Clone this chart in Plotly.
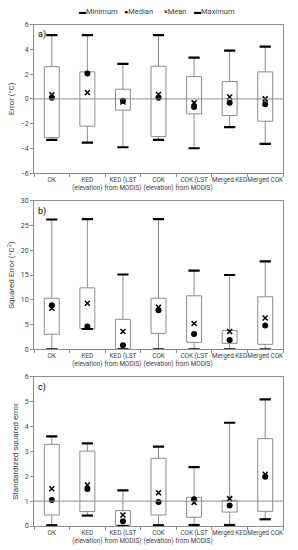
import plotly.graph_objects as go
from plotly.subplots import make_subplots
import numpy as np

categories = ["OK", "KED<br>(elevation)", "KED (LST<br>from MODIS)", "COK<br>(elevation)",
              "COK (LST<br>from MODIS)", "Merged KED", "Merged COK"]
legend_labels = ["Minimum", "Median", "Mean", "Maximum"]
legend_glyphs = ["▬", "●", "×", "▬"]

# Panel a) Error (°C)
a_min = [-3.3, -3.52, -3.9, -3.3, -3.98, -2.28, -3.63]
a_q1 = [-3.12, -2.2, -0.91, -3.04, -1.21, -1.34, -1.8]
a_med = [0.1, 2.04, -0.15, 0.1, -0.65, -0.32, -0.43]
a_mean = [0.33, 0.51, -0.25, 0.36, -0.32, 0.16, 0.0]
a_q3 = [2.6, 2.18, 0.78, 2.63, 1.8, 1.4, 2.18]
a_max = [5.15, 5.15, 2.82, 5.15, 3.33, 3.9, 4.22]

# Panel b) Squared error (°C²)
b_min = [0.0, 4.1, 0.0, 0.0, 0.0, 0.0, 0.0]
b_q1 = [3.03, 4.2, 0.0, 3.2, 1.4, 1.2, 1.0]
b_med = [8.9, 4.6, 0.8, 7.9, 3.1, 1.9, 4.8]
b_mean = [8.3, 9.3, 3.6, 8.5, 5.2, 3.6, 6.3]
b_q3 = [10.3, 12.4, 6.05, 10.3, 10.8, 3.8, 10.6]
b_max = [26.2, 26.3, 15.1, 26.3, 15.9, 15.0, 17.75]

# Panel c) Standardized squared error
c_min = [0.03, 0.42, 0.0, 0.03, 0.04, 0.04, 0.27]
c_q1 = [0.44, 0.58, 0.03, 0.44, 0.35, 0.56, 0.59]
c_med = [1.04, 1.49, 0.19, 0.96, 1.08, 0.82, 1.98]
c_mean = [1.5, 1.65, 0.44, 1.34, 0.95, 1.1, 2.08]
c_q3 = [3.28, 3.01, 0.62, 2.72, 1.15, 1.03, 3.51]
c_max = [3.6, 3.32, 1.43, 3.19, 2.37, 4.15, 5.09]

panels = [
    dict(mn=a_min, q1=a_q1, med=a_med, mean=a_mean, q3=a_q3, mx=a_max,
         rng=[-6, 6], dtick=2, title="Error (°C)", label="a)", ref=0),
    dict(mn=b_min, q1=b_q1, med=b_med, mean=b_mean, q3=b_q3, mx=b_max,
         rng=[0, 30], dtick=5, title="Squared Error (°C<sup>2</sup>)", label="b)", ref=None),
    dict(mn=c_min, q1=c_q1, med=c_med, mean=c_mean, q3=c_q3, mx=c_max,
         rng=[0, 6], dtick=1, title="Standardized squared error", label="c)", ref=1),
]

W, H = 298, 550
ML, MR = 34, 15
pix = [(24.5, 173.3), (200.7, 349.3), (376.7, 526.0)]

fig = make_subplots(rows=3, cols=1)

GRAY = "#8c8c8c"
TXT = "#404040"
FONT = "Liberation Sans Narrow, Roboto, Liberation Sans"

for i, p in enumerate(panels):
    r = i + 1
    mn, q1, med, mean, q3, mx = [np.array(p[k], dtype=float) for k in ["mn", "q1", "med", "mean", "q3", "mx"]]
    wx, wy = [], []
    for c, a0, a1, b0, b1 in zip(categories, mn, q1, q3, mx):
        wx += [c, c, None, c, c, None]
        wy += [a0, a1, None, b0, b1, None]
    fig.add_trace(go.Scatter(x=wx, y=wy, mode="lines", line=dict(color=GRAY, width=1),
                             showlegend=False, hoverinfo="skip"), row=r, col=1)
    fig.add_trace(go.Bar(x=categories, y=q3 - q1, base=q1, width=0.42,
                         marker=dict(color="white", line=dict(color=GRAY, width=1)),
                         showlegend=False), row=r, col=1)
    fig.add_trace(go.Scatter(x=categories, y=mn, mode="markers", name="Minimum",
                             marker=dict(symbol="line-ew", size=8, line=dict(color="black", width=2.2)),
                             showlegend=False), row=r, col=1)
    fig.add_trace(go.Scatter(x=categories, y=med, mode="markers", name="Median",
                             marker=dict(symbol="circle", size=6, color="black"),
                             showlegend=False), row=r, col=1)
    fig.add_trace(go.Scatter(x=categories, y=mean, mode="markers", name="Mean",
                             marker=dict(symbol="x-thin", size=5, line=dict(color="black", width=1.5)),
                             showlegend=False), row=r, col=1)
    fig.add_trace(go.Scatter(x=categories, y=mx, mode="markers", name="Maximum",
                             marker=dict(symbol="line-ew", size=8, line=dict(color="black", width=2.2)),
                             showlegend=False), row=r, col=1)

    top, bot = pix[i]
    dom = [1 - bot / H, 1 - top / H]
    fig.update_yaxes(row=r, col=1, domain=dom, range=p["rng"], dtick=p["dtick"], automargin=False,
                     showline=True, linecolor=GRAY, linewidth=1, mirror=True,
                     ticks="outside", ticklen=3, tickcolor=GRAY, showgrid=False, zeroline=False,
                     tickfont=dict(size=7, color=TXT, family=FONT),
                     title=dict(text=p["title"], font=dict(size=8, color=TXT, family=FONT), standoff=4))
    fig.update_xaxes(row=r, col=1, showline=True, linecolor=GRAY, linewidth=1, mirror=True, automargin=False,
                     ticks="outside", ticklen=3, tickcolor=GRAY, tickson="boundaries",
                     showgrid=False, tickfont=dict(size=6.4, color=TXT, family=FONT), tickangle=0)
    xref = "x" if r == 1 else f"x{r}"
    yref = "y" if r == 1 else f"y{r}"
    fig.add_annotation(text=p["label"], xref=f"{xref} domain", yref=f"{yref} domain",
                       x=0.01, y=0.98, xanchor="left", yanchor="top", showarrow=False,
                       font=dict(size=9, color="black", family=FONT))
    if p["ref"] is not None:
        fig.add_shape(type="line", xref=f"{xref} domain", yref=yref, x0=0, x1=1,
                      y0=p["ref"], y1=p["ref"], line=dict(color=GRAY, width=1), layer="above")

# legend row drawn as text items across the top
leg_x = [77, 122, 162, 192]
for lx, g, lab in zip(leg_x, legend_glyphs, legend_labels):
    fig.add_annotation(text=f"<span style='font-size:7px;color:black'>{g}</span>{lab}",
                       xref="paper", yref="paper",
                       x=(lx - ML) / (W - ML - MR), y=1 - 11 / H, xanchor="left", yanchor="middle",
                       showarrow=False, font=dict(size=7.5, color=TXT, family=FONT))

fig.update_layout(
    width=W, height=H, margin=dict(l=ML, r=MR, t=0, b=0, autoexpand=False),
    plot_bgcolor="white", paper_bgcolor="white",
    font=dict(family=FONT, size=7, color=TXT),
    showlegend=False,
    bargap=0,
)

fig.write_html("out.html", config={"displayModeBar": False, "staticPlot": True},
               post_script="document.body.style.margin='0';document.body.style.padding='0';document.body.style.overflow='hidden';")
